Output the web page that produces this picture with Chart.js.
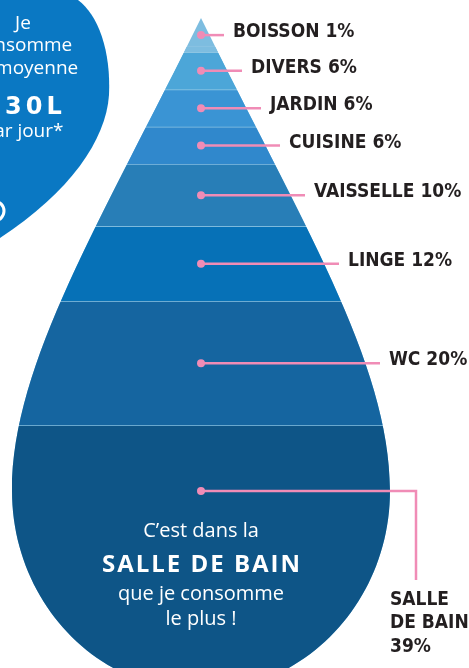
<!DOCTYPE html>
<html lang="fr">
<head>
<meta charset="utf-8">
<title>Ma consommation d'eau</title>
<script src="https://cdn.jsdelivr.net/npm/chart.js@4.4.1/dist/chart.umd.min.js"></script>
<style>
  html, body { margin: 0; padding: 0; background: #fff; }
  #wrap { position: relative; width: 469px; height: 668px; overflow: hidden; }
</style>
</head>
<body>
<div id="wrap"><canvas id="drop" width="469" height="668"></canvas></div>
<script>
// postes de consommation, du bas de la goutte vers la pointe
const usages = ['SALLE DE BAIN', 'WC', 'LINGE', 'VAISSELLE', 'CUISINE', 'JARDIN', 'DIVERS', 'BOISSON'];
const shares = [39, 20, 12, 10, 6, 6, 6, 1];
const bandColors = ['#0e5587', '#1565a0', '#0671b7', '#287eb7', '#3088cc', '#3a94d4', '#4ca6d8', '#7dbde0'];
const bubbleLines = ['Je', 'consomme', 'en moyenne', '130L', 'par jour*'];
const noteLines = ['C\u2019est dans la', 'SALLE DE BAIN', 'que je consomme', 'le plus !'];

const PINK = '#f08cb6';
const INK = '#231f20';

// drop outline, scaled on the chart area (apex at the top, belly as wide as the area)
function dropPath(area) {
    const cx = (area.left + area.right) / 2;
    const R = (area.right - area.left) / 2;
    const t = area.top;
    const k = 0.5523;
    const ry = 1.06 * R;
    const belly = t + 2.5 * R;
    const p = new Path2D();
    p.moveTo(cx, t);
    p.bezierCurveTo(cx + 0.52 * R, t + 1.06 * R, cx + R, t + 1.825 * R, cx + R, belly);
    p.bezierCurveTo(cx + R, belly + k * ry, cx + k * R, belly + ry, cx, belly + ry);
    p.bezierCurveTo(cx - k * R, belly + ry, cx - R, belly + k * ry, cx - R, belly);
    p.bezierCurveTo(cx - R, t + 1.825 * R, cx - 0.52 * R, t + 1.06 * R, cx, t);
    p.closePath();
    return p;
}

function edgeAt(ctx, path, cx, y) {
    let x = cx;
    while (x < cx + 400 && ctx.isPointInPath(path, x, y)) x++;
    return x;
}

const bubblePlugin = {
    id: 'bubble',
    beforeDraw(chart) {
        const ctx = chart.ctx;
        ctx.save();
        ctx.fillStyle = '#0a78c3';
        ctx.beginPath();
        ctx.moveTo(0, 0);
        ctx.lineTo(78, 0);
        ctx.bezierCurveTo(98, 15, 111, 50, 109, 95);
        ctx.bezierCurveTo(106, 140, 70, 192, 0, 238);
        ctx.closePath();
        ctx.fill();

        ctx.strokeStyle = '#fff';
        ctx.lineWidth = 3;
        ctx.beginPath();
        ctx.arc(-6, 211, 10, 0, Math.PI * 2);
        ctx.stroke();

        ctx.fillStyle = '#fff';
        ctx.textAlign = 'center';
        ctx.textBaseline = 'alphabetic';
        const ys = [29, 51, 74, 114, 137];
        bubbleLines.forEach((line, i) => {
            ctx.font = i === 3 ? 'bold 24px "DejaVu Sans"' : '19px "Open Sans"';
            ctx.letterSpacing = i === 3 ? '4px' : '0px';
            ctx.fillText(line, i === 3 ? 25 : 23, ys[i]);
        });
        ctx.letterSpacing = '0px';
        ctx.restore();
    }
};

const dropPlugin = {
    id: 'dropClip',
    beforeDatasetsDraw(chart) {
        const ctx = chart.ctx;
        const path = dropPath(chart.chartArea);
        ctx.save();
        // the tip above the scale keeps the colour of the top band
        ctx.fillStyle = bandColors[bandColors.length - 1];
        ctx.fill(path);
        ctx.clip(path);
    },
    afterDatasetsDraw(chart) {
        chart.ctx.restore();
    },
    afterDraw(chart) {
        const ctx = chart.ctx;
        const area = chart.chartArea;
        const path = dropPath(area);
        const cx = (area.left + area.right) / 2;

        // message inside the big band
        ctx.save();
        ctx.fillStyle = '#fff';
        ctx.textAlign = 'center';
        ctx.textBaseline = 'alphabetic';
        const noteY = [537, 572, 600, 625];
        noteLines.forEach((line, i) => {
            ctx.font = i === 1 ? 'bold 24px "Open Sans"' : '20px "Open Sans"';
            ctx.letterSpacing = i === 1 ? '2px' : '0px';
            ctx.fillText(line, cx + (i === 1 ? 1 : 0), noteY[i]);
        });
        ctx.letterSpacing = '0px';

        // leader lines and labels
        ctx.font = 'bold 19px "DejaVu Sans Condensed", "DejaVu Sans"';
        ctx.textAlign = 'left';
        usages.forEach((name, i) => {
            const bar = chart.getDatasetMeta(i).data[0];
            const top = i === usages.length - 1 ? area.top : bar.y;
            let y = (top + bar.base) / 2;
            if (i === 0) y = bar.y + 0.27 * (bar.base - bar.y);

            ctx.strokeStyle = PINK;
            ctx.lineWidth = 2.5;
            ctx.fillStyle = INK;
            if (i === 0) {
                const ex = area.right + 26;
                ctx.beginPath();
                ctx.moveTo(cx, y);
                ctx.lineTo(ex, y);
                ctx.lineTo(ex, y + 89);
                ctx.stroke();
                const parts = ['SALLE', 'DE BAIN', shares[i] + '%'];
                parts.forEach((p, j) => ctx.fillText(p, area.right, y + 114 + j * 23.5));
            } else {
                const end = edgeAt(ctx, path, cx, y) + 14;
                ctx.beginPath();
                ctx.moveTo(cx, y);
                ctx.lineTo(end, y);
                ctx.stroke();
                ctx.fillText(name + ' ' + shares[i] + '%', end + 9, y + 2);
            }
            ctx.fillStyle = PINK;
            ctx.beginPath();
            ctx.arc(cx, y, 4, 0, Math.PI * 2);
            ctx.fill();
        });
        ctx.restore();
    }
};

new Chart(document.getElementById('drop'), {
    type: 'bar',
    data: {
        labels: ['Consommation'],
        datasets: usages.map((name, i) => ({
            label: name,
            data: [shares[i]],
            backgroundColor: bandColors[i],
            borderColor: 'rgba(255,255,255,0.12)',
            borderWidth: { top: 1, left: 0, right: 0, bottom: 0 },
            borderSkipped: false,
            barPercentage: 1,
            categoryPercentage: 1
        }))
    },
    options: {
        responsive: false,
        animation: false,
        devicePixelRatio: 1,
        layout: { padding: { left: 12, right: 79, top: 18, bottom: 0 } },
        scales: {
            x: { stacked: true, display: false },
            y: { stacked: true, display: false, min: 0, max: 104.5 }
        },
        plugins: {
            legend: { display: false },
            tooltip: { enabled: false }
        }
    },
    plugins: [bubblePlugin, dropPlugin]
});
</script>
</body>
</html>
